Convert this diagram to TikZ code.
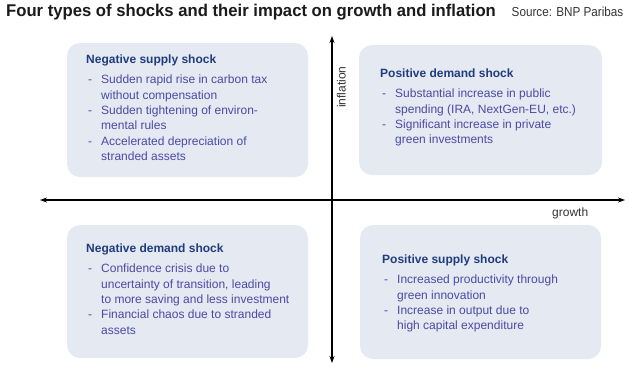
\documentclass[tikz,border=0pt]{standalone}
\usepackage{fontspec}
\setmainfont{Liberation Sans}
\newfontfamily\srcfont[FakeStretch=0.9]{Liberation Sans}
\newfontfamily\ttlfont[FakeStretch=0.98]{Liberation Sans}
\usetikzlibrary{arrows.meta}
\definecolor{boxfill}{HTML}{E5E9F2}
\definecolor{headcol}{HTML}{1F3D7D}
\definecolor{bodycol}{HTML}{4A4AA4}
\definecolor{titlecol}{HTML}{1A1A1A}
\definecolor{labcol}{HTML}{333333}
\newcommand\hd[1]{{\color{headcol}\bfseries #1}}
\newcommand\dsh{\makebox[15pt][l]{\hspace{2pt}-}}
\newcommand\ind{\hspace*{15pt}}
\tikzset{
  quad/.style={draw=none,fill=boxfill,rounded corners=13pt},
  boxtext/.style={anchor=base west,inner sep=0pt,text=bodycol,
    font=\fontsize{12}{15.4}\selectfont},
  axis/.style={line width=1.1pt,{Stealth[length=7pt,width=5pt]}-{Stealth[length=7pt,width=5pt]}},
  axlab/.style={inner sep=0pt,text=labcol,font=\fontsize{12}{14}\selectfont}
}
\begin{document}
\begin{tikzpicture}[x=1pt,y=-1pt]
\useasboundingbox (0,0) rectangle (634,373);
% title
\node[anchor=base west,inner sep=0pt,text=titlecol,font=\fontsize{17}{20}\selectfont\ttlfont\bfseries] (title) at (6,16.7) {Four types of shocks and their impact on growth and inflation};
\node[anchor=base west,inner sep=0pt,text=labcol,font=\fontsize{13}{15}\selectfont\srcfont] (src) at (511.5,16.7) {Source: BNP Paribas};
% boxes
\fill[quad] (67,43) rectangle (308,177);
\fill[quad] (359,45) rectangle (602,175);
\fill[quad] (67,225) rectangle (308,358);
\fill[quad] (360,225) rectangle (601,359);
% axes
\coordinate (xl) at (40,200);
\coordinate (xr) at (625,200);
\coordinate (yt) at (332,36);
\coordinate (yb) at (332,363);
\draw[axis] (xl) -- (xr);
\draw[axis] (yb) -- (yt);
\node[axlab,anchor=base west] (growth) at (552,216) {growth};
\node[axlab,anchor=base west,rotate=90] (inflation) at (345.5,108) {inflation};
% texts
\node[boxtext] (nw) at (86,55) {\parbox[t]{220pt}{\raggedright
\hd{Negative supply shock}\\[4.6pt]
\dsh Sudden rapid rise in carbon tax\\
\ind without compensation\\
\dsh Sudden tightening of environ-\\
\ind mental rules\\
\dsh Accelerated depreciation of\\
\ind stranded assets}};
\node[boxtext] (ne) at (380,69) {\parbox[t]{220pt}{\raggedright
\hd{Positive demand shock}\\[4.6pt]
\dsh Substantial increase in public\\
\ind spending (IRA, NextGen-EU, etc.)\\
\dsh Significant increase in private\\
\ind green investments}};
\node[boxtext] (sw) at (86,244) {\parbox[t]{220pt}{\raggedright
\hd{Negative demand shock}\\[4.6pt]
\dsh Confidence crisis due to\\
\ind uncertainty of transition, leading\\
\ind to more saving and less investment\\
\dsh Financial chaos due to stranded\\
\ind assets}};
\node[boxtext] (se) at (382,255) {\parbox[t]{220pt}{\raggedright
\hd{Positive supply shock}\\[4.6pt]
\dsh Increased productivity through\\
\ind green innovation\\
\dsh Increase in output due to\\
\ind high capital expenditure}};
\end{tikzpicture}
\end{document}
